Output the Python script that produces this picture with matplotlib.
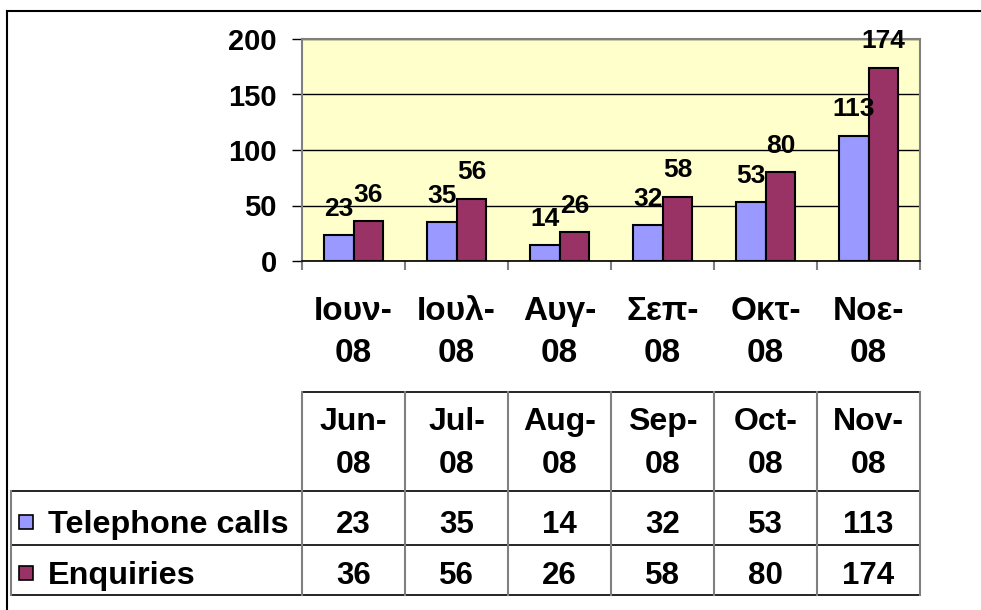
import matplotlib
matplotlib.use("Agg")
import matplotlib.pyplot as plt
import matplotlib.transforms as mtransforms
from matplotlib.lines import Line2D
from matplotlib.patches import Rectangle

# data
months_gr = ["Ιουν-08", "Ιουλ-08", "Αυγ-08", "Σεπ-08", "Οκτ-08", "Νοε-08"]
months_en = ["Jun-08", "Jul-08", "Aug-08", "Sep-08", "Oct-08", "Nov-08"]
series_names = ["Telephone calls", "Enquiries"]
telephone_calls = [23, 35, 14, 32, 53, 113]
enquiries = [36, 56, 26, 58, 80, 174]
colors = ["#9999FF", "#993366"]

W, H = 981, 610
plt.rcParams["font.family"] = ["Liberation Sans", "DejaVu Sans"]
plt.rcParams["font.weight"] = "bold"

fig = plt.figure(figsize=(W / 100, H / 100), dpi=100)
# pixel coords, origin top-left
px = mtransforms.Affine2D().scale(1 / W, -1 / H).translate(0, 1) + fig.transFigure

ax = fig.add_axes([302 / W, 1 - 261 / H, (920 - 302) / W, (261 - 39) / H])
ax.set_facecolor("#FFFFCC")

x = list(range(len(months_gr)))
bw = 0.29
series = [telephone_calls, enquiries]
for i, (vals, c) in enumerate(zip(series, colors)):
    pos = [k + (i - 0.5) * bw for k in x]
    bars = ax.bar(pos, vals, bw, color=c, edgecolor="black", linewidth=1.5, zorder=3)
    for b, v in zip(bars, vals):
        ax.annotate(str(v), (b.get_x() + b.get_width() / 2, v), xytext=(0, 14),
                    textcoords="offset points", ha="center", va="baseline",
                    fontsize=19, fontweight="bold", zorder=4)

ax.set_xlim(-0.5, 5.5)
ax.set_ylim(0, 200)
ax.set_yticks(range(0, 201, 50))
ax.yaxis.grid(True, color="black", linewidth=1)
ax.set_axisbelow(True)
ax.tick_params(axis="y", length=7.2, width=1, color="black", labelsize=21, pad=10.8)

# category boundaries as major ticks, greek month labels as minor ticks
ax.set_xticks([k - 0.5 for k in range(len(months_gr) + 1)], labels=[])
ax.tick_params(axis="x", which="major", length=6.5, width=1.5, color="#808080")
ax.set_xticks(x, labels=[m.replace("-", "-\n") for m in months_gr], minor=True)
ax.tick_params(axis="x", which="minor", length=0, pad=25.5, labelsize=24)
for t in ax.get_xticklabels(minor=True):
    t.set_linespacing(1.45)

for s in ["left", "top", "right"]:
    ax.spines[s].set_color("#808080")
    ax.spines[s].set_linewidth(1.5)
ax.spines["bottom"].set_color("black")
ax.spines["bottom"].set_linewidth(1.2)

# data table below the chart
tb = mtransforms.blended_transform_factory(ax.transData, px)
fig.add_artist(Line2D([-0.5, 5.5], [392, 392], transform=tb, color="black", lw=1.2))
for yy in [491, 545, 595]:
    fig.add_artist(Line2D([11, 920], [yy, yy], transform=px, color="black", lw=1.2))
for k in range(len(months_en) + 1):
    fig.add_artist(Line2D([k - 0.5, k - 0.5], [392, 595], transform=tb, color="#808080", lw=1.5))
fig.add_artist(Line2D([11, 11], [491, 595], transform=px, color="#808080", lw=1.5))

for k, lab in enumerate(months_en):
    a, b = lab.split("-")
    fig.text(k, 430, a + "-", transform=tb, ha="center", va="baseline", fontsize=23)
    fig.text(k, 473, b, transform=tb, ha="center", va="baseline", fontsize=23)

row_base = [533, 584]
for name, vals, c, yb in zip(series_names, series, colors, row_base):
    fig.add_artist(Rectangle((19, yb - 18), 14, 14, transform=px, facecolor=c,
                             edgecolor="black", lw=1.2))
    fig.text(48, yb, name, transform=px, ha="left", va="baseline", fontsize=23.3)
    for k, v in enumerate(vals):
        fig.text(k, yb, str(v), transform=tb, ha="center", va="baseline", fontsize=22.5)

# outer chart frame
fig.add_artist(Line2D([7, 7], [11, 610], transform=px, color="black", lw=1.5))
fig.add_artist(Line2D([7, 981], [11, 11], transform=px, color="black", lw=1.5))

fig.savefig("out.png", dpi=100)
